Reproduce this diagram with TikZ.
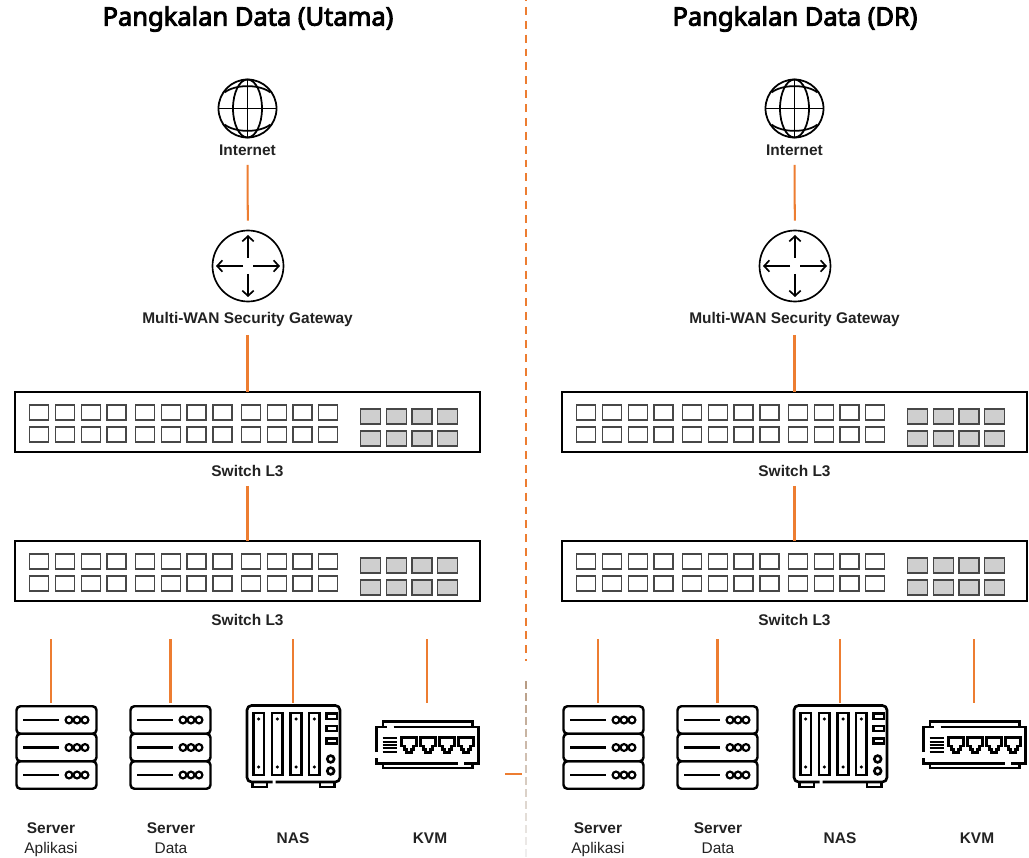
\documentclass[tikz,border=0pt]{standalone}
\usepackage{fontspec}
\setmainfont{Liberation Sans}
\newfontfamily\titlefont[FakeBold=3.5]{Noto Sans}
\usetikzlibrary{arrows.meta}
\definecolor{linkorange}{HTML}{ED7D31}
\definecolor{inkdark}{HTML}{222222}
\definecolor{fadetop}{HTML}{B89C84}
\definecolor{fadeend}{HTML}{F0F0F0}
\tikzset{
	link/.style={line width=1.15pt, color=linkorange},
	iconbox/.style={inner sep=0pt, outer sep=0pt},
	titletext/.style={font=\titlefont\fontsize{14.5}{16}\selectfont, color=black},
	devlabel/.style={font=\bfseries\fontsize{8.8}{11.3}\selectfont, color=inkdark, minimum height=0.6cm, inner sep=0pt, outer sep=0pt, align=center},
	routerbox/.style={draw, circle, line width=0.95pt, minimum size=1.42cm, inner sep=0pt, outer sep=0.2cm},
	switchbox/.style={draw, line width=0.95pt, minimum width=9.3cm, minimum height=1.21cm, inner sep=0pt, outer sep=0pt},
	pics/globeicon/.style={code={
		\draw[line width=1pt] (0,0) circle (29);
		\draw[line width=1pt] (0,0) ellipse (14.5 and 29);
		\draw[line width=1pt] (-29,0) -- (29,0);
		\draw[line width=1pt] (0,-29) -- (0,29);
		\draw[line width=1pt] (-23,-16) .. controls (-12,-24.5) and (12,-24.5) .. (23,-16);
		\draw[line width=1pt] (-23,16) .. controls (-12,24.5) and (12,24.5) .. (23,16);
	}},
	pics/routerarrows/.style={code={
		\draw[line width=0.95pt, -{Straight Barb[length=3pt,width=6.5pt]}] (0,-8) -- (0,-31);
		\draw[line width=0.95pt, -{Straight Barb[length=3pt,width=6.5pt]}] (0,8) -- (0,31);
		\draw[line width=0.95pt, -{Straight Barb[length=3pt,width=6.5pt]}] (-5,0) -- (-32,0);
		\draw[line width=0.95pt, -{Straight Barb[length=3pt,width=6.5pt]}] (5,0) -- (32,0);
	}},
	pics/switchports/.style={code={
		\foreach \px in {-218,-192,-166,-140.5,-112,-86,-60.5,-34.5,-6,20,45.5,71}{
			\draw[line width=1.1pt, color=black!72] (\px,-17) rectangle ++(19,15);
			\draw[line width=1.1pt, color=black!72] (\px,5) rectangle ++(19,15);
		}
		\foreach \px in {113,139,164.5,190}{
			\draw[line width=1.1pt, color=black!72, fill=black!19] (\px,-13) rectangle ++(20,15);
			\draw[line width=1.1pt, color=black!72, fill=black!19] (\px,9) rectangle ++(20,15);
		}
	}},
	pics/servericon/.style={code={
		\foreach \r in {-1,0,1}{
			\draw[line width=1.4pt, rounded corners=2.2pt] (-40,\r*27.5-13.75) rectangle (40,\r*27.5+13.75);
			\draw[line width=1.3pt] (-33.5,\r*27.5) -- (2.5,\r*27.5);
			\foreach \c in {12.5,20.5,28.5}
				\draw[line width=1.25pt] (\c,\r*27.5) circle (3.4);
		}
	}},
	pics/nasicon/.style={code={
		\draw[line width=1.5pt, rounded corners=2.6pt] (-21,36) -- (-46.5,36) -- (-46.5,-40.5) -- (46.5,-40.5) -- (46.5,36) -- (-18,36);
		\draw[line width=1.5pt] (-41,36) -- (-41,41) -- (-26.5,41) -- (-26.5,36);
		\draw[line width=1.5pt] (26.5,36) -- (26.5,41) -- (41,41) -- (41,36);
		\foreach \b in {-40.2,-21.5,-2.8,15.5}{
			\draw[line width=1.5pt] (\b,-33) rectangle ++(10.7,62);
			\fill (\b+5.35,-27) circle (1.7);
			\fill (\b+5.35,21) circle (1.7);
		}
		\draw[line width=1.4pt] (33,-32.3) rectangle (43.5,-27);
		\draw[line width=1.4pt] (33,-20) rectangle (43.5,-15);
		\draw[line width=1.4pt] (33,-7.3) rectangle (43.5,-2.5);
		\draw[line width=1.5pt] (37.2,13) circle (3.4);
		\draw[line width=1.5pt] (37.2,25) circle (3.4);
	}},
	pics/kvmicon/.style={code={
		\draw[line width=1.5pt] (-44.5,-19) -- (-44.5,-24.5) -- (45,-24.5) -- (45,-19);
		\draw[line width=1.5pt] (-44.5,17.7) -- (-44.5,22) -- (45,22) -- (45,17.7);
		\draw[line width=1.5pt] (-34,-19) -- (51,-19) -- (51,17.7) -- (36,17.7);
		\draw[line width=1.5pt] (30,17.7) -- (-51,17.7) -- (-51,12);
		\draw[line width=1.5pt] (-51,6) -- (-51,-19) -- (-41,-19);
		\foreach \v in {-7.7,-4.3,-1,2.3,5.7}
			\draw[line width=1pt] (-45,\v) -- (-31,\v);
		\foreach \p in {-18.5,0.2,19.2,38.2}
			\draw[line width=1.6pt] (\p-7.5,-8.5) -- (\p+7.5,-8.5) -- (\p+7.5,0) -- (\p+4.5,0) -- (\p+4.5,3.5) -- (\p+2.5,3.5) -- (\p+2.5,6.5) -- (\p-2.5,6.5) -- (\p-2.5,3.5) -- (\p-4.5,3.5) -- (\p-4.5,0) -- (\p-7.5,0) -- cycle;
	}},
}
\begin{document}
% one picture pixel is 0.02cm, y runs downwards as in the reference
\begin{tikzpicture}[x=0.02cm, y=-0.02cm]
	\useasboundingbox (0,0) rectangle (1029,858);

	%%%%% DIVIDER %%%%%
	\coordinate (divtop) at (526,-7);
	\coordinate (divend) at (526,661);
	\draw[line width=1.1pt, color=linkorange, dash pattern=on 4.5pt off 3.4pt] (divtop) -- (divend);
	\foreach \i in {0,...,14}{
		\pgfmathtruncatemacro{\fadeval}{100-7*\i}
		\draw[line width=1.6pt, color=fadetop!\fadeval!fadeend] (526,681+12*\i) -- (526,689+12*\i);
	}

	%%%%% SIDES %%%%%
	\foreach \dx/\side/\titletxt in {0/A/{Pangkalan Data (Utama)},547/B/{Pangkalan Data (DR)}}{
		\begin{scope}[shift={(\dx,0)}]
			\node[titletext] (title\side) at (248,19) {\titletxt};

			\node[iconbox, minimum size=1.16cm] (net\side) at (247.5,108.5) {};
			\pic at (net\side) {globeicon};
			\node[devlabel] (netlabel\side) at (247.5,150) {Internet};

			\node[routerbox] (gw\side) at (248,266) {};
			\pic at (gw\side) {routerarrows};
			\node[devlabel] (gwlabel\side) at (247.5,320) {Multi-WAN Security Gateway};

			\node[switchbox] (core\side) at (247.5,422) {};
			\pic at (core\side) {switchports};
			\node[devlabel] (corelabel\side) at (247.5,471) {Switch L3};

			\node[switchbox] (edge\side) at (247.5,571) {};
			\pic at (edge\side) {switchports};
			\node[devlabel] (edgelabel\side) at (247.5,620) {Switch L3};

			\node[iconbox, minimum width=1.62cm, minimum height=1.78cm] (app\side) at (56.5,747.5) {};
			\pic at (app\side) {servericon};
			\node[iconbox, minimum width=1.62cm, minimum height=1.78cm] (data\side) at (170.5,747.5) {};
			\pic at (data\side) {servericon};
			\node[iconbox, minimum width=1.9cm, minimum height=1.72cm] (nas\side) at (293.5,746) {};
			\pic at (nas\side) {nasicon};
			\node[iconbox, minimum width=2.08cm, minimum height=1.72cm] (kvm\side) at (427.5,746) {};
			\pic at (kvm\side) {kvmicon};

			\node[devlabel] (applabel\side) at (51,839.5) {Server\\{\normalfont Aplikasi}};
			\node[devlabel] (datalabel\side) at (171,838.5) {Server\\{\normalfont Data}};
			\node[devlabel] (naslabel\side) at (293,838) {NAS};
			\node[devlabel] (kvmlabel\side) at (430,838) {KVM};

			\coordinate (tapapp\side) at (51,639);
			\coordinate (tapdata\side) at (170.5,639);
			\coordinate (tapnas\side) at (293,639);
			\coordinate (tapkvm\side) at (427,639);

			\draw[link] (netlabel\side) -- (gw\side);
			\draw[link] (gwlabel\side) -- (core\side);
			\draw[link] (corelabel\side) -- (edge\side);
			\draw[link] (tapapp\side) -- (tapapp\side |- app\side.north);
			\draw[link] (tapdata\side) -- (tapdata\side |- data\side.north);
			\draw[link] (tapnas\side) -- (tapnas\side |- nas\side.north);
			\draw[link] (tapkvm\side) -- (tapkvm\side |- kvm\side.north);
		\end{scope}
	}

	%%%%% STUB %%%%%
	\coordinate (stubstart) at (505,774);
	\coordinate (stubend) at (522,774);
	\draw[link] (stubstart) -- (stubend);
\end{tikzpicture}
\end{document}
